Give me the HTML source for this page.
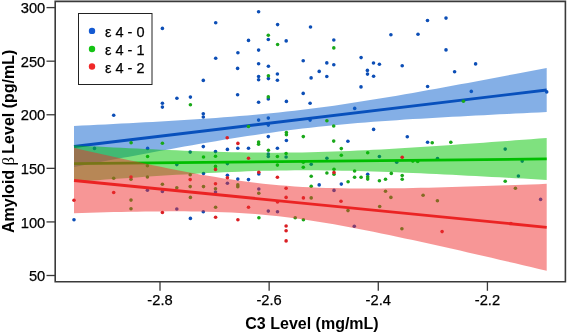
<!DOCTYPE html>
<html><head><meta charset="utf-8"><style>
html,body{margin:0;padding:0;background:#fff;width:567px;height:333px;overflow:hidden}
svg{display:block;font-family:"Liberation Sans",sans-serif;will-change:transform}
</style></head><body>
<svg width="567" height="333" viewBox="0 0 567 333">
<rect x="0" y="0" width="567" height="333" fill="#fff"/>
<circle cx="162.4" cy="28.4" r="1.8" fill="rgb(12,78,182)"/>
<circle cx="258.6" cy="11.7" r="1.8" fill="rgb(12,78,182)"/>
<circle cx="215.7" cy="22.8" r="1.8" fill="rgb(12,78,182)"/>
<circle cx="277.6" cy="24.6" r="1.8" fill="rgb(12,78,182)"/>
<circle cx="310.5" cy="27.0" r="1.8" fill="rgb(12,78,182)"/>
<circle cx="248.5" cy="40.4" r="1.8" fill="rgb(12,78,182)"/>
<circle cx="268.3" cy="39.5" r="1.8" fill="rgb(12,78,182)"/>
<circle cx="286.2" cy="40.9" r="1.8" fill="rgb(12,78,182)"/>
<circle cx="258.6" cy="50.1" r="1.8" fill="rgb(12,78,182)"/>
<circle cx="237.9" cy="52.8" r="1.8" fill="rgb(12,78,182)"/>
<circle cx="215.7" cy="58.2" r="1.8" fill="rgb(12,78,182)"/>
<circle cx="427.5" cy="20.5" r="1.8" fill="rgb(12,78,182)"/>
<circle cx="390.9" cy="34.8" r="1.8" fill="rgb(12,78,182)"/>
<circle cx="418.0" cy="34.3" r="1.8" fill="rgb(12,78,182)"/>
<circle cx="333.8" cy="40.0" r="1.8" fill="rgb(12,78,182)"/>
<circle cx="361.1" cy="57.6" r="1.8" fill="rgb(12,78,182)"/>
<circle cx="333.8" cy="64.8" r="1.8" fill="rgb(12,78,182)"/>
<circle cx="373.5" cy="63.0" r="1.8" fill="rgb(12,78,182)"/>
<circle cx="379.4" cy="64.3" r="1.8" fill="rgb(12,78,182)"/>
<circle cx="402.2" cy="65.7" r="1.8" fill="rgb(12,78,182)"/>
<circle cx="367.4" cy="70.4" r="1.8" fill="rgb(12,78,182)"/>
<circle cx="446.0" cy="18.1" r="1.8" fill="rgb(12,78,182)"/>
<circle cx="446.0" cy="49.9" r="1.8" fill="rgb(12,78,182)"/>
<circle cx="475.6" cy="63.9" r="1.8" fill="rgb(12,78,182)"/>
<circle cx="454.6" cy="71.8" r="1.8" fill="rgb(12,78,182)"/>
<circle cx="237.6" cy="68.4" r="1.8" fill="rgb(12,78,182)"/>
<circle cx="258.6" cy="63.8" r="1.8" fill="rgb(12,78,182)"/>
<circle cx="268.4" cy="66.3" r="1.8" fill="rgb(12,78,182)"/>
<circle cx="258.6" cy="76.5" r="1.8" fill="rgb(12,78,182)"/>
<circle cx="258.6" cy="79.7" r="1.8" fill="rgb(12,78,182)"/>
<circle cx="268.4" cy="78.6" r="1.8" fill="rgb(12,78,182)"/>
<circle cx="277.4" cy="74.0" r="1.8" fill="rgb(12,78,182)"/>
<circle cx="277.4" cy="80.2" r="1.8" fill="rgb(12,78,182)"/>
<circle cx="303.2" cy="60.8" r="1.8" fill="rgb(12,78,182)"/>
<circle cx="326.8" cy="62.9" r="1.8" fill="rgb(12,78,182)"/>
<circle cx="319.2" cy="71.4" r="1.8" fill="rgb(12,78,182)"/>
<circle cx="311.1" cy="77.9" r="1.8" fill="rgb(12,78,182)"/>
<circle cx="326.8" cy="76.5" r="1.8" fill="rgb(12,78,182)"/>
<circle cx="237.6" cy="94.7" r="1.8" fill="rgb(12,78,182)"/>
<circle cx="303.2" cy="93.4" r="1.8" fill="rgb(12,78,182)"/>
<circle cx="113.7" cy="115.2" r="1.8" fill="rgb(12,78,182)"/>
<circle cx="162.4" cy="103.2" r="1.8" fill="rgb(12,78,182)"/>
<circle cx="162.4" cy="107.1" r="1.8" fill="rgb(12,78,182)"/>
<circle cx="176.9" cy="98.3" r="1.8" fill="rgb(12,78,182)"/>
<circle cx="203.3" cy="80.4" r="1.8" fill="rgb(12,78,182)"/>
<circle cx="190.4" cy="97.1" r="1.8" fill="rgb(12,78,182)"/>
<circle cx="203.3" cy="113.8" r="1.8" fill="rgb(12,78,182)"/>
<circle cx="203.3" cy="117.0" r="1.8" fill="rgb(12,78,182)"/>
<circle cx="258.6" cy="102.3" r="1.8" fill="rgb(12,78,182)"/>
<circle cx="268.3" cy="98.9" r="1.8" fill="rgb(12,78,182)"/>
<circle cx="286.4" cy="101.4" r="1.8" fill="rgb(12,78,182)"/>
<circle cx="310.1" cy="103.2" r="1.8" fill="rgb(12,78,182)"/>
<circle cx="258.6" cy="120.1" r="1.8" fill="rgb(12,78,182)"/>
<circle cx="268.3" cy="118.1" r="1.8" fill="rgb(12,78,182)"/>
<circle cx="268.3" cy="125.1" r="1.8" fill="rgb(12,78,182)"/>
<circle cx="310.1" cy="120.1" r="1.8" fill="rgb(12,78,182)"/>
<circle cx="203.3" cy="146.6" r="1.8" fill="rgb(12,78,182)"/>
<circle cx="268.3" cy="136.6" r="1.8" fill="rgb(12,78,182)"/>
<circle cx="286.4" cy="140.5" r="1.8" fill="rgb(12,78,182)"/>
<circle cx="367.5" cy="74.1" r="1.8" fill="rgb(12,78,182)"/>
<circle cx="373.6" cy="76.3" r="1.8" fill="rgb(12,78,182)"/>
<circle cx="361.0" cy="86.9" r="1.8" fill="rgb(12,78,182)"/>
<circle cx="427.6" cy="86.5" r="1.8" fill="rgb(12,78,182)"/>
<circle cx="354.7" cy="108.4" r="1.8" fill="rgb(12,78,182)"/>
<circle cx="373.6" cy="129.4" r="1.8" fill="rgb(12,78,182)"/>
<circle cx="407.3" cy="136.8" r="1.8" fill="rgb(12,78,182)"/>
<circle cx="347.9" cy="141.3" r="1.8" fill="rgb(12,78,182)"/>
<circle cx="427.6" cy="142.2" r="1.8" fill="rgb(12,78,182)"/>
<circle cx="471.3" cy="91.4" r="1.8" fill="rgb(12,78,182)"/>
<circle cx="546.7" cy="91.9" r="1.8" fill="rgb(12,78,182)"/>
<circle cx="94.5" cy="148.4" r="1.8" fill="rgb(12,78,182)"/>
<circle cx="147.6" cy="148.4" r="1.8" fill="rgb(12,78,182)"/>
<circle cx="176.8" cy="164.6" r="1.8" fill="rgb(12,78,182)"/>
<circle cx="147.4" cy="190.2" r="1.8" fill="rgb(12,78,182)"/>
<circle cx="162.4" cy="191.4" r="1.8" fill="rgb(12,78,182)"/>
<circle cx="176.8" cy="209.0" r="1.8" fill="rgb(12,78,182)"/>
<circle cx="227.4" cy="149.4" r="1.8" fill="rgb(12,78,182)"/>
<circle cx="237.8" cy="148.3" r="1.8" fill="rgb(12,78,182)"/>
<circle cx="248.5" cy="148.3" r="1.8" fill="rgb(12,78,182)"/>
<circle cx="190.2" cy="152.1" r="1.8" fill="rgb(12,78,182)"/>
<circle cx="215.5" cy="151.6" r="1.8" fill="rgb(12,78,182)"/>
<circle cx="227.4" cy="163.6" r="1.8" fill="rgb(12,78,182)"/>
<circle cx="203.5" cy="173.5" r="1.8" fill="rgb(12,78,182)"/>
<circle cx="258.8" cy="174.0" r="1.8" fill="rgb(12,78,182)"/>
<circle cx="227.4" cy="175.2" r="1.8" fill="rgb(12,78,182)"/>
<circle cx="237.8" cy="179.1" r="1.8" fill="rgb(12,78,182)"/>
<circle cx="248.5" cy="179.6" r="1.8" fill="rgb(12,78,182)"/>
<circle cx="227.4" cy="183.3" r="1.8" fill="rgb(12,78,182)"/>
<circle cx="258.8" cy="189.0" r="1.8" fill="rgb(12,78,182)"/>
<circle cx="215.5" cy="192.0" r="1.8" fill="rgb(12,78,182)"/>
<circle cx="277.4" cy="148.3" r="1.8" fill="rgb(12,78,182)"/>
<circle cx="268.3" cy="154.0" r="1.8" fill="rgb(12,78,182)"/>
<circle cx="268.3" cy="156.5" r="1.8" fill="rgb(12,78,182)"/>
<circle cx="286.1" cy="157.0" r="1.8" fill="rgb(12,78,182)"/>
<circle cx="326.9" cy="158.2" r="1.8" fill="rgb(12,78,182)"/>
<circle cx="311.2" cy="164.3" r="1.8" fill="rgb(12,78,182)"/>
<circle cx="341.3" cy="184.1" r="1.8" fill="rgb(12,78,182)"/>
<circle cx="319.2" cy="184.9" r="1.8" fill="rgb(12,78,182)"/>
<circle cx="334.0" cy="190.4" r="1.8" fill="rgb(12,78,182)"/>
<circle cx="379.4" cy="156.5" r="1.8" fill="rgb(12,78,182)"/>
<circle cx="396.7" cy="162.3" r="1.8" fill="rgb(12,78,182)"/>
<circle cx="437.5" cy="158.5" r="1.8" fill="rgb(12,78,182)"/>
<circle cx="367.7" cy="174.2" r="1.8" fill="rgb(12,78,182)"/>
<circle cx="505.2" cy="149.1" r="1.8" fill="rgb(12,78,182)"/>
<circle cx="522.2" cy="161.1" r="1.8" fill="rgb(12,78,182)"/>
<circle cx="518.4" cy="176.0" r="1.8" fill="rgb(12,78,182)"/>
<circle cx="74.0" cy="219.7" r="1.8" fill="rgb(12,78,182)"/>
<circle cx="203.3" cy="211.8" r="1.8" fill="rgb(12,78,182)"/>
<circle cx="190.4" cy="218.4" r="1.8" fill="rgb(12,78,182)"/>
<circle cx="268.3" cy="211.1" r="1.8" fill="rgb(12,78,182)"/>
<circle cx="277.5" cy="211.8" r="1.8" fill="rgb(12,78,182)"/>
<circle cx="354.3" cy="226.3" r="1.8" fill="rgb(12,78,182)"/>
<circle cx="540.6" cy="199.4" r="1.8" fill="rgb(12,78,182)"/>
<path d="M74.00,125.91 L81.88,125.53 L89.76,125.15 L97.64,124.77 L105.51,124.38 L113.39,123.98 L121.27,123.58 L129.15,123.17 L137.03,122.75 L144.91,122.33 L152.78,121.89 L160.66,121.45 L168.54,120.99 L176.42,120.52 L184.30,120.04 L192.18,119.54 L200.05,119.02 L207.93,118.49 L215.81,117.93 L223.69,117.36 L231.57,116.75 L239.45,116.12 L247.32,115.46 L255.20,114.76 L263.08,114.04 L270.96,113.27 L278.84,112.46 L286.72,111.61 L294.59,110.72 L302.47,109.79 L310.35,108.81 L318.23,107.79 L326.11,106.73 L333.99,105.63 L341.86,104.49 L349.74,103.31 L357.62,102.10 L365.50,100.86 L373.38,99.59 L381.26,98.30 L389.13,96.98 L397.01,95.64 L404.89,94.28 L412.77,92.90 L420.65,91.50 L428.53,90.09 L436.40,88.67 L444.28,87.24 L452.16,85.79 L460.04,84.34 L467.92,82.88 L475.80,81.40 L483.67,79.93 L491.55,78.44 L499.43,76.95 L507.31,75.45 L515.19,73.95 L523.07,72.45 L530.94,70.94 L538.82,69.42 L546.70,67.90 L546.70,112.10 L538.82,112.46 L530.94,112.83 L523.07,113.20 L515.19,113.58 L507.31,113.96 L499.43,114.35 L491.55,114.74 L483.67,115.14 L475.80,115.55 L467.92,115.96 L460.04,116.38 L452.16,116.81 L444.28,117.25 L436.40,117.70 L428.53,118.16 L420.65,118.63 L412.77,119.12 L404.89,119.62 L397.01,120.15 L389.13,120.69 L381.26,121.25 L373.38,121.84 L365.50,122.45 L357.62,123.10 L349.74,123.77 L341.86,124.48 L333.99,125.22 L326.11,126.00 L318.23,126.82 L310.35,127.69 L302.47,128.59 L294.59,129.54 L286.72,130.54 L278.84,131.57 L270.96,132.65 L263.08,133.76 L255.20,134.92 L247.32,136.11 L239.45,137.33 L231.57,138.58 L223.69,139.86 L215.81,141.17 L207.93,142.49 L200.05,143.84 L192.18,145.21 L184.30,146.60 L176.42,148.00 L168.54,149.41 L160.66,150.84 L152.78,152.27 L144.91,153.72 L137.03,155.18 L129.15,156.65 L121.27,158.12 L113.39,159.60 L105.51,161.09 L97.64,162.58 L89.76,164.08 L81.88,165.58 L74.00,167.09 Z" fill="rgb(10,95,205)" fill-opacity="0.5"/>
<line x1="74.00" y1="146.50" x2="546.70" y2="90.00" stroke="rgb(8,80,188)" stroke-width="2.8"/>
<circle cx="268.3" cy="35.2" r="1.8" fill="rgb(25,168,25)"/>
<circle cx="277.6" cy="44.5" r="1.8" fill="rgb(25,168,25)"/>
<circle cx="333.8" cy="47.9" r="1.8" fill="rgb(25,168,25)"/>
<circle cx="268.4" cy="75.8" r="1.8" fill="rgb(25,168,25)"/>
<circle cx="131.1" cy="142.7" r="1.8" fill="rgb(25,168,25)"/>
<circle cx="162.4" cy="143.2" r="1.8" fill="rgb(25,168,25)"/>
<circle cx="190.4" cy="104.8" r="1.8" fill="rgb(25,168,25)"/>
<circle cx="268.3" cy="96.9" r="1.8" fill="rgb(25,168,25)"/>
<circle cx="248.5" cy="126.5" r="1.8" fill="rgb(25,168,25)"/>
<circle cx="286.4" cy="132.6" r="1.8" fill="rgb(25,168,25)"/>
<circle cx="286.4" cy="134.8" r="1.8" fill="rgb(25,168,25)"/>
<circle cx="303.3" cy="136.6" r="1.8" fill="rgb(25,168,25)"/>
<circle cx="258.6" cy="142.0" r="1.8" fill="rgb(25,168,25)"/>
<circle cx="258.6" cy="144.3" r="1.8" fill="rgb(25,168,25)"/>
<circle cx="326.9" cy="120.8" r="1.8" fill="rgb(25,168,25)"/>
<circle cx="333.7" cy="126.0" r="1.8" fill="rgb(25,168,25)"/>
<circle cx="333.7" cy="141.1" r="1.8" fill="rgb(25,168,25)"/>
<circle cx="432.2" cy="142.7" r="1.8" fill="rgb(25,168,25)"/>
<circle cx="463.4" cy="101.2" r="1.8" fill="rgb(25,168,25)"/>
<circle cx="450.8" cy="142.2" r="1.8" fill="rgb(25,168,25)"/>
<circle cx="147.6" cy="156.5" r="1.8" fill="rgb(25,168,25)"/>
<circle cx="147.4" cy="165.8" r="1.8" fill="rgb(25,168,25)"/>
<circle cx="113.7" cy="178.2" r="1.8" fill="rgb(25,168,25)"/>
<circle cx="131.0" cy="179.3" r="1.8" fill="rgb(25,168,25)"/>
<circle cx="147.4" cy="177.0" r="1.8" fill="rgb(25,168,25)"/>
<circle cx="162.4" cy="184.3" r="1.8" fill="rgb(25,168,25)"/>
<circle cx="176.8" cy="187.7" r="1.8" fill="rgb(25,168,25)"/>
<circle cx="131.0" cy="200.1" r="1.8" fill="rgb(25,168,25)"/>
<circle cx="131.0" cy="208.7" r="1.8" fill="rgb(25,168,25)"/>
<circle cx="268.4" cy="150.2" r="1.8" fill="rgb(25,168,25)"/>
<circle cx="203.5" cy="157.0" r="1.8" fill="rgb(25,168,25)"/>
<circle cx="215.5" cy="156.2" r="1.8" fill="rgb(25,168,25)"/>
<circle cx="215.5" cy="166.4" r="1.8" fill="rgb(25,168,25)"/>
<circle cx="190.2" cy="174.7" r="1.8" fill="rgb(25,168,25)"/>
<circle cx="190.2" cy="186.6" r="1.8" fill="rgb(25,168,25)"/>
<circle cx="203.5" cy="186.6" r="1.8" fill="rgb(25,168,25)"/>
<circle cx="215.5" cy="188.7" r="1.8" fill="rgb(25,168,25)"/>
<circle cx="237.8" cy="184.9" r="1.8" fill="rgb(25,168,25)"/>
<circle cx="237.8" cy="186.7" r="1.8" fill="rgb(25,168,25)"/>
<circle cx="258.8" cy="193.2" r="1.8" fill="rgb(25,168,25)"/>
<circle cx="286.1" cy="153.5" r="1.8" fill="rgb(25,168,25)"/>
<circle cx="277.4" cy="156.5" r="1.8" fill="rgb(25,168,25)"/>
<circle cx="341.3" cy="148.6" r="1.8" fill="rgb(25,168,25)"/>
<circle cx="341.3" cy="155.2" r="1.8" fill="rgb(25,168,25)"/>
<circle cx="277.4" cy="165.1" r="1.8" fill="rgb(25,168,25)"/>
<circle cx="303.3" cy="162.3" r="1.8" fill="rgb(25,168,25)"/>
<circle cx="303.3" cy="167.3" r="1.8" fill="rgb(25,168,25)"/>
<circle cx="334.0" cy="169.2" r="1.8" fill="rgb(25,168,25)"/>
<circle cx="334.0" cy="174.2" r="1.8" fill="rgb(25,168,25)"/>
<circle cx="326.9" cy="173.0" r="1.8" fill="rgb(25,168,25)"/>
<circle cx="311.2" cy="176.3" r="1.8" fill="rgb(25,168,25)"/>
<circle cx="348.1" cy="181.8" r="1.8" fill="rgb(25,168,25)"/>
<circle cx="311.2" cy="186.2" r="1.8" fill="rgb(25,168,25)"/>
<circle cx="367.7" cy="152.7" r="1.8" fill="rgb(25,168,25)"/>
<circle cx="412.8" cy="161.1" r="1.8" fill="rgb(25,168,25)"/>
<circle cx="417.7" cy="161.5" r="1.8" fill="rgb(25,168,25)"/>
<circle cx="354.6" cy="171.0" r="1.8" fill="rgb(25,168,25)"/>
<circle cx="354.6" cy="177.2" r="1.8" fill="rgb(25,168,25)"/>
<circle cx="361.1" cy="177.2" r="1.8" fill="rgb(25,168,25)"/>
<circle cx="367.7" cy="176.7" r="1.8" fill="rgb(25,168,25)"/>
<circle cx="367.7" cy="179.1" r="1.8" fill="rgb(25,168,25)"/>
<circle cx="391.3" cy="173.4" r="1.8" fill="rgb(25,168,25)"/>
<circle cx="379.4" cy="180.8" r="1.8" fill="rgb(25,168,25)"/>
<circle cx="385.5" cy="179.3" r="1.8" fill="rgb(25,168,25)"/>
<circle cx="402.2" cy="175.5" r="1.8" fill="rgb(25,168,25)"/>
<circle cx="402.2" cy="179.3" r="1.8" fill="rgb(25,168,25)"/>
<circle cx="385.5" cy="191.2" r="1.8" fill="rgb(25,168,25)"/>
<circle cx="505.2" cy="181.3" r="1.8" fill="rgb(25,168,25)"/>
<circle cx="515.4" cy="188.2" r="1.8" fill="rgb(25,168,25)"/>
<circle cx="190.4" cy="197.4" r="1.8" fill="rgb(25,168,25)"/>
<circle cx="215.6" cy="207.3" r="1.8" fill="rgb(25,168,25)"/>
<circle cx="311.2" cy="197.9" r="1.8" fill="rgb(25,168,25)"/>
<circle cx="258.9" cy="217.7" r="1.8" fill="rgb(25,168,25)"/>
<circle cx="295.2" cy="217.7" r="1.8" fill="rgb(25,168,25)"/>
<circle cx="303.4" cy="219.7" r="1.8" fill="rgb(25,168,25)"/>
<circle cx="390.9" cy="197.4" r="1.8" fill="rgb(25,168,25)"/>
<circle cx="379.7" cy="206.5" r="1.8" fill="rgb(25,168,25)"/>
<circle cx="348.0" cy="210.6" r="1.8" fill="rgb(25,168,25)"/>
<circle cx="423.1" cy="195.3" r="1.8" fill="rgb(25,168,25)"/>
<circle cx="437.4" cy="200.7" r="1.8" fill="rgb(25,168,25)"/>
<circle cx="401.9" cy="228.8" r="1.8" fill="rgb(25,168,25)"/>
<path d="M74.00,145.27 L81.88,145.71 L89.76,146.13 L97.64,146.55 L105.51,146.97 L113.39,147.38 L121.27,147.78 L129.15,148.17 L137.03,148.56 L144.91,148.94 L152.78,149.31 L160.66,149.66 L168.54,150.01 L176.42,150.34 L184.30,150.65 L192.18,150.96 L200.05,151.24 L207.93,151.50 L215.81,151.74 L223.69,151.96 L231.57,152.15 L239.45,152.32 L247.32,152.45 L255.20,152.55 L263.08,152.62 L270.96,152.65 L278.84,152.65 L286.72,152.60 L294.59,152.52 L302.47,152.40 L310.35,152.25 L318.23,152.05 L326.11,151.83 L333.99,151.56 L341.86,151.27 L349.74,150.95 L357.62,150.59 L365.50,150.22 L373.38,149.82 L381.26,149.40 L389.13,148.96 L397.01,148.50 L404.89,148.02 L412.77,147.54 L420.65,147.03 L428.53,146.52 L436.40,146.00 L444.28,145.46 L452.16,144.92 L460.04,144.37 L467.92,143.81 L475.80,143.24 L483.67,142.67 L491.55,142.10 L499.43,141.51 L507.31,140.93 L515.19,140.34 L523.07,139.74 L530.94,139.14 L538.82,138.54 L546.70,137.93 L546.70,179.97 L538.82,179.51 L530.94,179.07 L523.07,178.62 L515.19,178.18 L507.31,177.75 L499.43,177.32 L491.55,176.89 L483.67,176.47 L475.80,176.05 L467.92,175.64 L460.04,175.24 L452.16,174.84 L444.28,174.45 L436.40,174.07 L428.53,173.70 L420.65,173.35 L412.77,173.00 L404.89,172.67 L397.01,172.35 L389.13,172.04 L381.26,171.76 L373.38,171.49 L365.50,171.25 L357.62,171.03 L349.74,170.83 L341.86,170.66 L333.99,170.52 L326.11,170.41 L318.23,170.34 L310.35,170.30 L302.47,170.30 L294.59,170.34 L286.72,170.41 L278.84,170.52 L270.96,170.67 L263.08,170.86 L255.20,171.08 L247.32,171.34 L239.45,171.63 L231.57,171.95 L223.69,172.30 L215.81,172.67 L207.93,173.06 L200.05,173.48 L192.18,173.92 L184.30,174.38 L176.42,174.85 L168.54,175.33 L160.66,175.83 L152.78,176.34 L144.91,176.87 L137.03,177.40 L129.15,177.94 L121.27,178.49 L113.39,179.05 L105.51,179.61 L97.64,180.18 L89.76,180.76 L81.88,181.34 L74.00,181.93 Z" fill="rgb(0,195,0)" fill-opacity="0.5"/>
<line x1="74.00" y1="163.60" x2="546.70" y2="158.95" stroke="rgb(0,190,0)" stroke-width="2.8"/>
<circle cx="227.2" cy="137.8" r="1.8" fill="rgb(218,30,35)"/>
<circle cx="237.9" cy="143.4" r="1.8" fill="rgb(218,30,35)"/>
<circle cx="131.0" cy="177.0" r="1.8" fill="rgb(218,30,35)"/>
<circle cx="113.7" cy="192.5" r="1.8" fill="rgb(218,30,35)"/>
<circle cx="162.4" cy="212.5" r="1.8" fill="rgb(218,30,35)"/>
<circle cx="74.0" cy="200.3" r="1.8" fill="rgb(218,30,35)"/>
<circle cx="248.5" cy="158.2" r="1.8" fill="rgb(218,30,35)"/>
<circle cx="215.5" cy="169.4" r="1.8" fill="rgb(218,30,35)"/>
<circle cx="258.8" cy="172.2" r="1.8" fill="rgb(218,30,35)"/>
<circle cx="227.4" cy="177.7" r="1.8" fill="rgb(218,30,35)"/>
<circle cx="190.2" cy="179.6" r="1.8" fill="rgb(218,30,35)"/>
<circle cx="215.5" cy="183.8" r="1.8" fill="rgb(218,30,35)"/>
<circle cx="334.0" cy="172.5" r="1.8" fill="rgb(218,30,35)"/>
<circle cx="277.4" cy="177.2" r="1.8" fill="rgb(218,30,35)"/>
<circle cx="286.1" cy="188.2" r="1.8" fill="rgb(218,30,35)"/>
<circle cx="402.2" cy="157.3" r="1.8" fill="rgb(218,30,35)"/>
<circle cx="215.6" cy="217.3" r="1.8" fill="rgb(218,30,35)"/>
<circle cx="286.1" cy="197.4" r="1.8" fill="rgb(218,30,35)"/>
<circle cx="303.4" cy="197.9" r="1.8" fill="rgb(218,30,35)"/>
<circle cx="277.5" cy="201.9" r="1.8" fill="rgb(218,30,35)"/>
<circle cx="248.5" cy="207.3" r="1.8" fill="rgb(218,30,35)"/>
<circle cx="237.9" cy="219.7" r="1.8" fill="rgb(218,30,35)"/>
<circle cx="286.1" cy="226.0" r="1.8" fill="rgb(218,30,35)"/>
<circle cx="286.1" cy="230.8" r="1.8" fill="rgb(218,30,35)"/>
<circle cx="286.1" cy="240.9" r="1.8" fill="rgb(218,30,35)"/>
<circle cx="341.0" cy="201.2" r="1.8" fill="rgb(218,30,35)"/>
<circle cx="442.1" cy="231.6" r="1.8" fill="rgb(218,30,35)"/>
<circle cx="510.9" cy="223.5" r="1.8" fill="rgb(218,30,35)"/>
<path d="M74.00,147.85 L81.88,149.64 L89.76,151.42 L97.64,153.19 L105.51,154.95 L113.39,156.70 L121.27,158.42 L129.15,160.14 L137.03,161.83 L144.91,163.51 L152.78,165.16 L160.66,166.78 L168.54,168.38 L176.42,169.94 L184.30,171.47 L192.18,172.95 L200.05,174.39 L207.93,175.79 L215.81,177.12 L223.69,178.40 L231.57,179.61 L239.45,180.75 L247.32,181.81 L255.20,182.79 L263.08,183.69 L270.96,184.50 L278.84,185.23 L286.72,185.87 L294.59,186.43 L302.47,186.91 L310.35,187.31 L318.23,187.64 L326.11,187.91 L333.99,188.12 L341.86,188.28 L349.74,188.38 L357.62,188.45 L365.50,188.47 L373.38,188.46 L381.26,188.42 L389.13,188.35 L397.01,188.25 L404.89,188.13 L412.77,187.99 L420.65,187.84 L428.53,187.66 L436.40,187.47 L444.28,187.27 L452.16,187.06 L460.04,186.83 L467.92,186.60 L475.80,186.36 L483.67,186.10 L491.55,185.85 L499.43,185.58 L507.31,185.31 L515.19,185.03 L523.07,184.75 L530.94,184.46 L538.82,184.16 L546.70,183.87 L546.70,270.73 L538.82,268.88 L530.94,267.02 L523.07,265.17 L515.19,263.33 L507.31,261.49 L499.43,259.66 L491.55,257.83 L483.67,256.02 L475.80,254.20 L467.92,252.40 L460.04,250.61 L452.16,248.82 L444.28,247.05 L436.40,245.29 L428.53,243.54 L420.65,241.80 L412.77,240.09 L404.89,238.39 L397.01,236.71 L389.13,235.05 L381.26,233.42 L373.38,231.82 L365.50,230.25 L357.62,228.71 L349.74,227.22 L341.86,225.76 L333.99,224.36 L326.11,223.01 L318.23,221.72 L310.35,220.49 L302.47,219.33 L294.59,218.25 L286.72,217.25 L278.84,216.33 L270.96,215.50 L263.08,214.75 L255.20,214.09 L247.32,213.51 L239.45,213.01 L231.57,212.59 L223.69,212.24 L215.81,211.96 L207.93,211.73 L200.05,211.57 L192.18,211.45 L184.30,211.37 L176.42,211.34 L168.54,211.34 L160.66,211.38 L152.78,211.44 L144.91,211.53 L137.03,211.65 L129.15,211.78 L121.27,211.94 L113.39,212.10 L105.51,212.29 L97.64,212.49 L89.76,212.70 L81.88,212.92 L74.00,213.15 Z" fill="rgb(240,45,45)" fill-opacity="0.5"/>
<line x1="74.00" y1="180.50" x2="546.70" y2="227.30" stroke="rgb(235,35,35)" stroke-width="2.8"/>
<path d="M55.2,1.4 H565.4 V281.8 H55.2 Z" fill="none" stroke="#3a3a3a" stroke-width="1.6"/>
<line x1="46.5" y1="275.50" x2="55.2" y2="275.50" stroke="#3a3a3a" stroke-width="1.3"/>
<text x="45.3" y="281.10" text-anchor="end" font-size="14.7" fill="#000" stroke="#000" stroke-width="0.25">50</text>
<line x1="46.5" y1="221.92" x2="55.2" y2="221.92" stroke="#3a3a3a" stroke-width="1.3"/>
<text x="45.3" y="227.52" text-anchor="end" font-size="14.7" fill="#000" stroke="#000" stroke-width="0.25">100</text>
<line x1="46.5" y1="168.34" x2="55.2" y2="168.34" stroke="#3a3a3a" stroke-width="1.3"/>
<text x="45.3" y="173.94" text-anchor="end" font-size="14.7" fill="#000" stroke="#000" stroke-width="0.25">150</text>
<line x1="46.5" y1="114.76" x2="55.2" y2="114.76" stroke="#3a3a3a" stroke-width="1.3"/>
<text x="45.3" y="120.36" text-anchor="end" font-size="14.7" fill="#000" stroke="#000" stroke-width="0.25">200</text>
<line x1="46.5" y1="61.18" x2="55.2" y2="61.18" stroke="#3a3a3a" stroke-width="1.3"/>
<text x="45.3" y="66.78" text-anchor="end" font-size="14.7" fill="#000" stroke="#000" stroke-width="0.25">250</text>
<line x1="46.5" y1="7.60" x2="55.2" y2="7.60" stroke="#3a3a3a" stroke-width="1.3"/>
<text x="45.3" y="13.20" text-anchor="end" font-size="14.7" fill="#000" stroke="#000" stroke-width="0.25">300</text>
<line x1="160.00" y1="281.8" x2="160.00" y2="290.8" stroke="#3a3a3a" stroke-width="1.3"/>
<text x="160.00" y="305.4" text-anchor="middle" font-size="14.7" fill="#000" stroke="#000" stroke-width="0.25">-2.8</text>
<line x1="269.14" y1="281.8" x2="269.14" y2="290.8" stroke="#3a3a3a" stroke-width="1.3"/>
<text x="269.14" y="305.4" text-anchor="middle" font-size="14.7" fill="#000" stroke="#000" stroke-width="0.25">-2.6</text>
<line x1="378.28" y1="281.8" x2="378.28" y2="290.8" stroke="#3a3a3a" stroke-width="1.3"/>
<text x="378.28" y="305.4" text-anchor="middle" font-size="14.7" fill="#000" stroke="#000" stroke-width="0.25">-2.4</text>
<line x1="487.42" y1="281.8" x2="487.42" y2="290.8" stroke="#3a3a3a" stroke-width="1.3"/>
<text x="487.42" y="305.4" text-anchor="middle" font-size="14.7" fill="#000" stroke="#000" stroke-width="0.25">-2.2</text>
<text x="312" y="329" text-anchor="middle" font-size="16" font-weight="bold" fill="#000">C3 Level (mg/mL)</text>
<text transform="translate(14.3,233.0) rotate(-90)" font-size="16" font-weight="bold" fill="#000">Amyloid <tspan font-weight="normal" font-family="Liberation Serif" font-size="17">β</tspan><tspan dx="-1.3"> Level (pg/mL)</tspan></text>
<rect x="78.5" y="13.5" width="73.5" height="71" fill="#fff" stroke="#222" stroke-width="1"/>
<circle cx="92.0" cy="30.9" r="3.2" fill="rgb(20,90,210)"/>
<text x="105" y="37.1" font-size="14.5" fill="#000" stroke="#000" stroke-width="0.25">ε 4 - 0</text>
<circle cx="92.0" cy="49.0" r="3.2" fill="rgb(20,195,20)"/>
<text x="105" y="55.2" font-size="14.5" fill="#000" stroke="#000" stroke-width="0.25">ε 4 - 1</text>
<circle cx="92.0" cy="66.5" r="3.2" fill="rgb(240,40,40)"/>
<text x="105" y="72.7" font-size="14.5" fill="#000" stroke="#000" stroke-width="0.25">ε 4 - 2</text>
</svg>
</body></html>
